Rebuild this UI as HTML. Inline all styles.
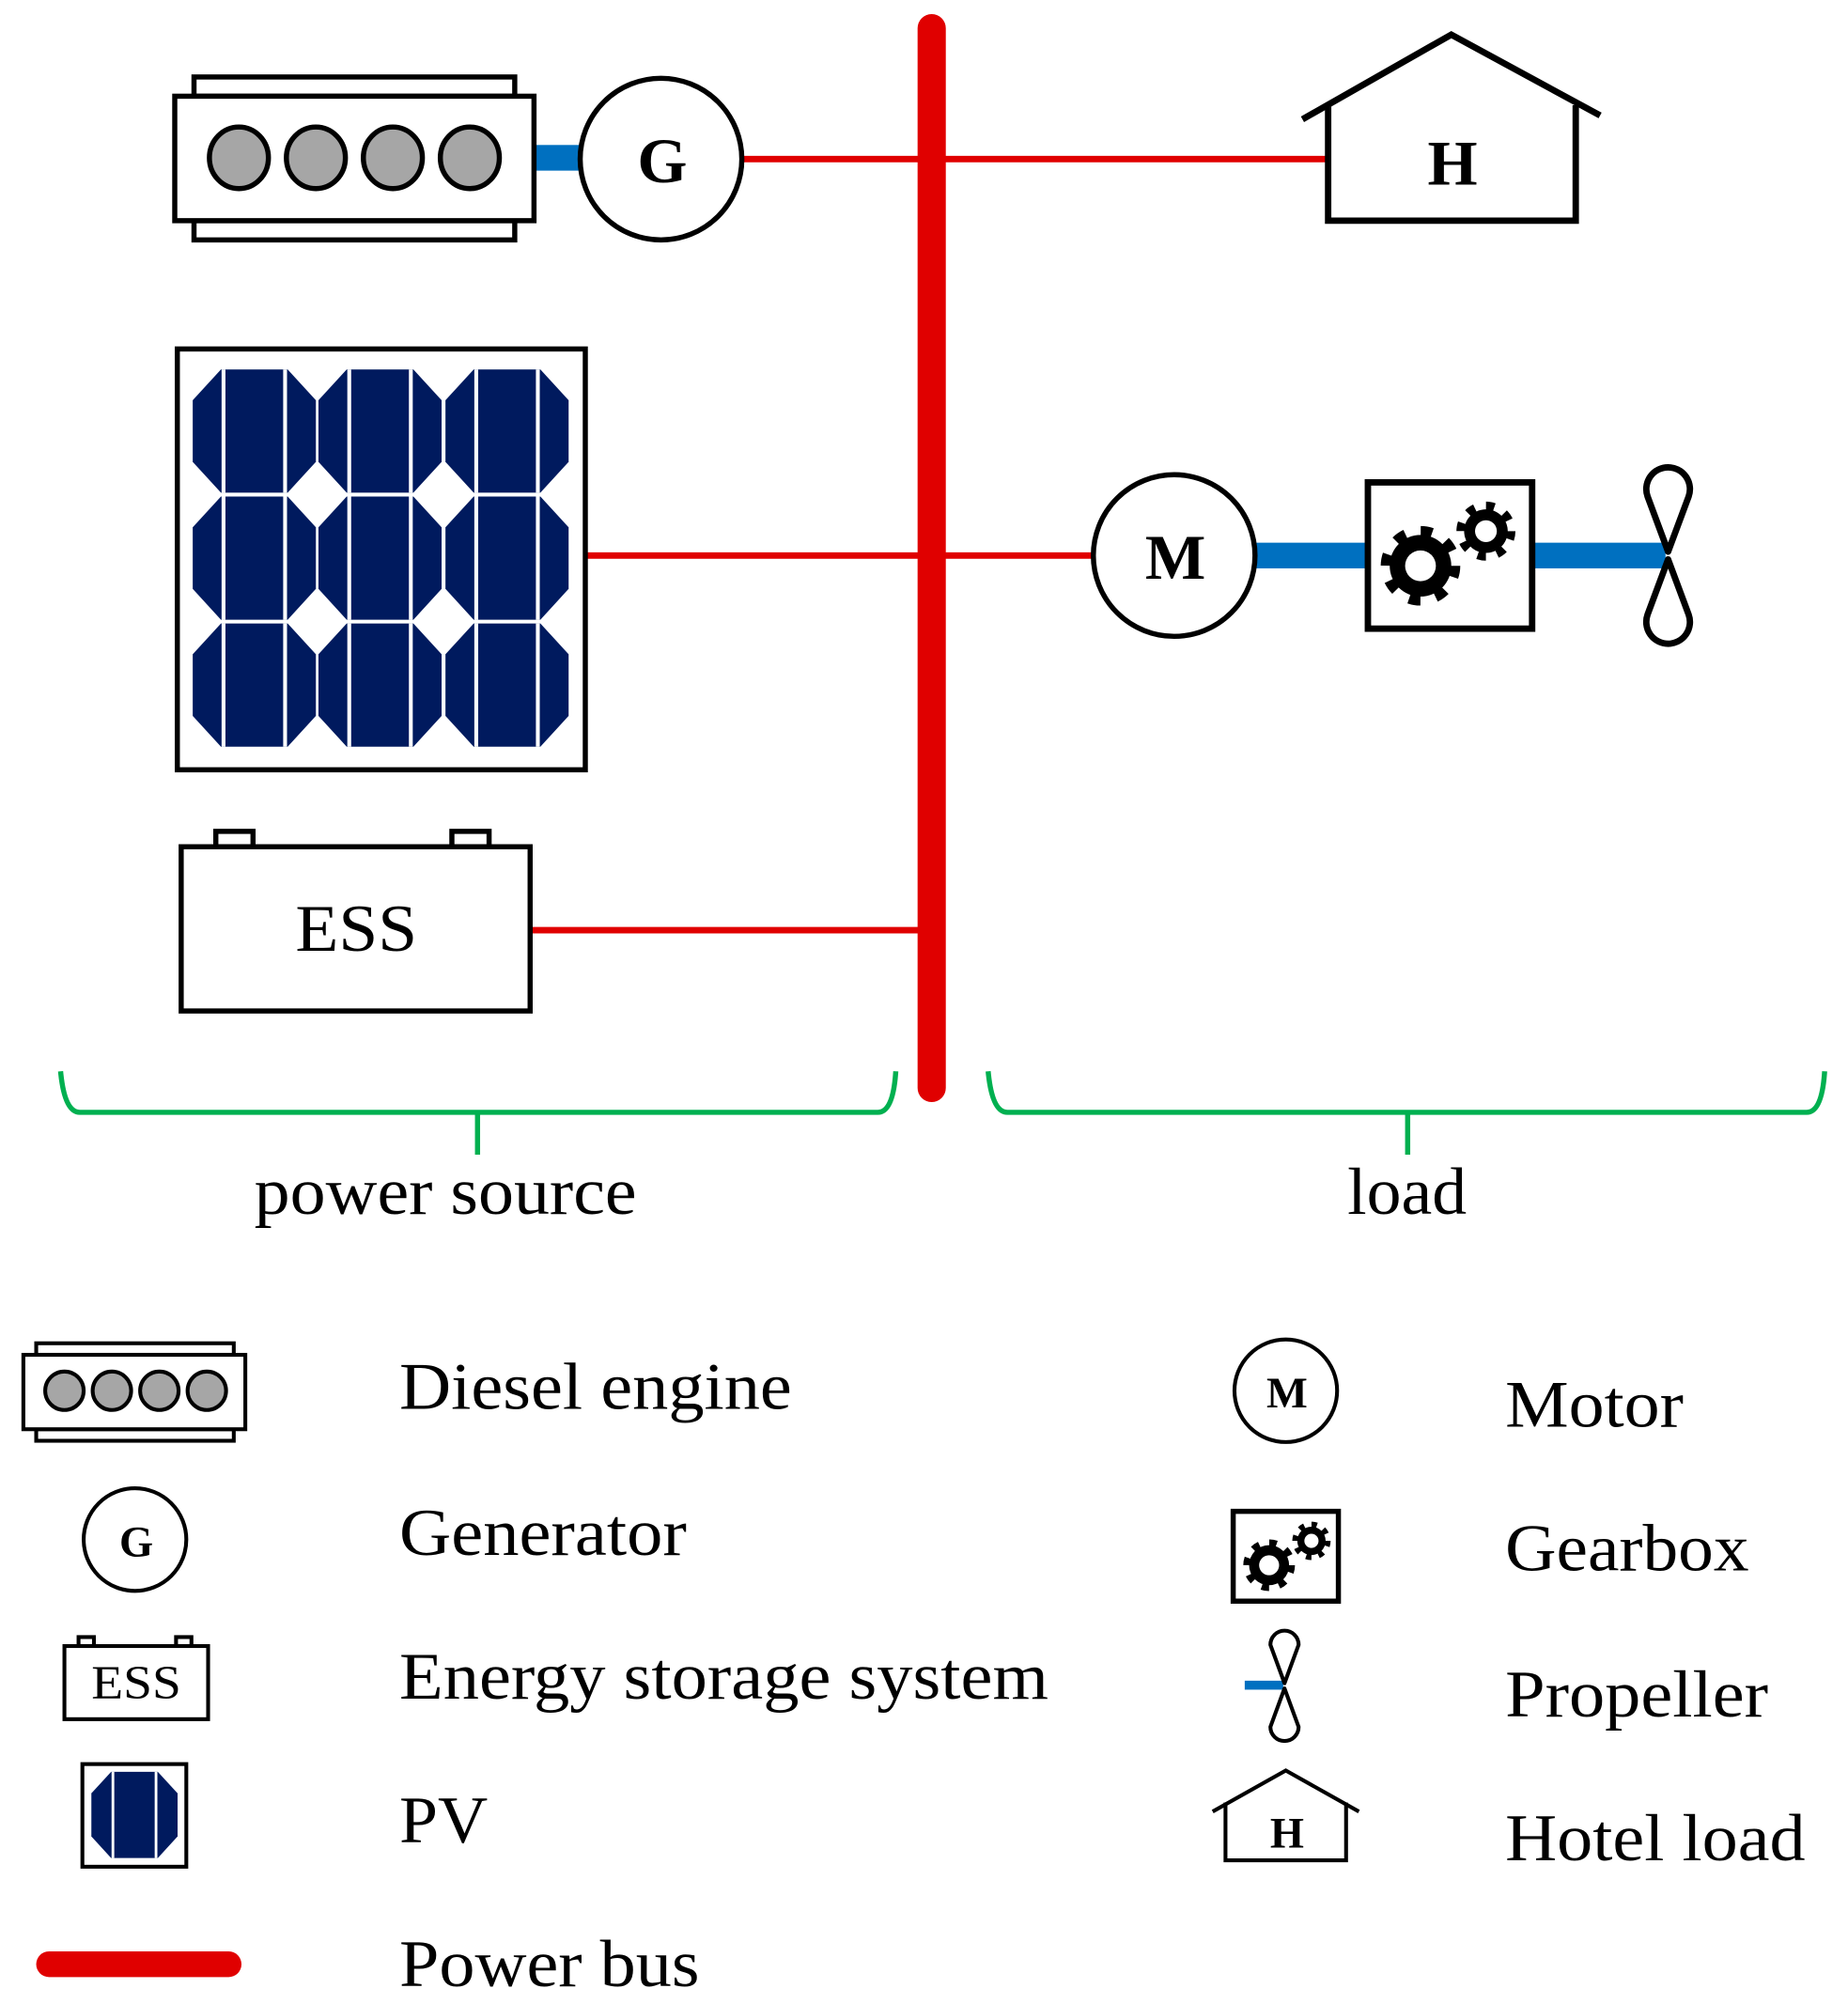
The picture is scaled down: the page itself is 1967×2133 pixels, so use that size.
<!DOCTYPE html>
<html><head><meta charset="utf-8"><style>html,body{margin:0;padding:0;background:#fff}svg{display:block}</style></head>
<body>
<svg width="1967" height="2133" viewBox="0 0 1440 1562" xmlns="http://www.w3.org/2000/svg" font-family="'Liberation Serif', serif">
<defs>
  <g id="cell">
    <path d="M22,0 H74 L96,24 V72 L74,96 H22 L0,72 V24 Z" fill="#001a5e"/>
    <line x1="24" y1="0" x2="24" y2="96" stroke="#fff" stroke-width="3"/>
    <line x1="72" y1="0" x2="72" y2="96" stroke="#fff" stroke-width="3"/>
  </g>
  <g id="gear">
    <circle r="27" fill="none" stroke="#000" stroke-width="8" stroke-dasharray="9 12.2"/>
    <circle r="24" fill="#000"/>
    <circle r="12" fill="#fff"/>
  </g>
  <g id="gear2">
    <circle r="19.5" fill="none" stroke="#000" stroke-width="7" stroke-dasharray="6.5 8.8"/>
    <circle r="17" fill="#000"/>
    <circle r="8.5" fill="#fff"/>
  </g>
</defs>
<rect width="1440" height="1562" fill="#fff"/>

<line x1="578" y1="124" x2="1035" y2="124" stroke="#e00000" stroke-width="5"/>
<line x1="456" y1="433" x2="852" y2="433" stroke="#e00000" stroke-width="5"/>
<line x1="413" y1="725" x2="720" y2="725" stroke="#e00000" stroke-width="5"/>
<line x1="726" y1="22" x2="726" y2="848" stroke="#e00000" stroke-width="22" stroke-linecap="round"/>

<rect x="416" y="113" width="40" height="20" fill="#0070c0"/>
<rect x="151" y="60" width="250" height="15" fill="#fff" stroke="#000" stroke-width="4"/>
<rect x="151" y="172" width="250" height="15" fill="#fff" stroke="#000" stroke-width="4"/>
<rect x="136" y="75" width="280" height="97" fill="#fff" stroke="#000" stroke-width="4"/>
<g fill="#a6a6a6" stroke="#000" stroke-width="4">
<ellipse cx="186" cy="123" rx="23" ry="24"/><ellipse cx="246" cy="123" rx="23" ry="24"/>
<ellipse cx="306" cy="123" rx="23" ry="24"/><ellipse cx="366" cy="123" rx="23" ry="24"/>
</g>
<circle cx="515" cy="124" r="63" fill="#fff" stroke="#000" stroke-width="4"/>
<text x="516" y="142" font-size="50" font-weight="bold" text-anchor="middle">G</text>

<polyline points="1015,93 1131,27 1247,90" fill="none" stroke="#000" stroke-width="5"/>
<polyline points="1035,82 1035,172 1228,172 1228,82" fill="none" stroke="#000" stroke-width="5"/>
<text x="1132" y="144" font-size="50" font-weight="bold" text-anchor="middle">H</text>

<rect x="138" y="272" width="318" height="328" fill="#fff" stroke="#000" stroke-width="4"/>
<use href="#cell" x="150" y="288"/><use href="#cell" x="248" y="288"/><use href="#cell" x="347" y="288"/>
<use href="#cell" x="150" y="387"/><use href="#cell" x="248" y="387"/><use href="#cell" x="347" y="387"/>
<use href="#cell" x="150" y="486"/><use href="#cell" x="248" y="486"/><use href="#cell" x="347" y="486"/>

<rect x="978" y="423" width="90" height="20" fill="#0070c0"/>
<rect x="1194" y="423" width="104" height="20" fill="#0070c0"/>
<circle cx="915" cy="433" r="63" fill="#fff" stroke="#000" stroke-width="4"/>
<text x="916" y="451" font-size="50" font-weight="bold" text-anchor="middle">M</text>
<rect x="1066" y="376" width="128" height="114" fill="#fff" stroke="#000" stroke-width="5"/>
<use href="#gear" x="1107" y="441"/>
<use href="#gear2" x="1158" y="414"/>
<g fill="#fff" stroke="#000" stroke-width="5" stroke-linejoin="round">
<path d="M1300,430 L1284,387 A17,17 0 1 1 1316,387 Z"/>
<path d="M1300,436 L1284,479 A17,17 0 1 0 1316,479 Z"/>
</g>

<rect x="168" y="648" width="29" height="12" fill="#fff" stroke="#000" stroke-width="4"/>
<rect x="352" y="648" width="29" height="12" fill="#fff" stroke="#000" stroke-width="4"/>
<rect x="141" y="660" width="272" height="128" fill="#fff" stroke="#000" stroke-width="4"/>
<text x="230" y="741" font-size="52" textLength="95" lengthAdjust="spacingAndGlyphs">ESS</text>

<g fill="none" stroke="#00b050" stroke-width="4">
<path d="M47,835 Q50,867 62,867 H684 Q696,867 698,835"/>
<line x1="372" y1="867" x2="372" y2="900"/>
<path d="M770,835 Q773,867 785,867 H1408 Q1420,867 1422,835"/>
<line x1="1097" y1="867" x2="1097" y2="900"/>
</g>
<text x="198" y="946" font-size="52" textLength="298" lengthAdjust="spacingAndGlyphs">power source</text>
<text x="1050" y="946" font-size="52" textLength="93" lengthAdjust="spacingAndGlyphs">load</text>

<rect x="28" y="1047" width="154" height="9" fill="#fff" stroke="#000" stroke-width="3"/>
<rect x="28" y="1114" width="154" height="9" fill="#fff" stroke="#000" stroke-width="3"/>
<rect x="18" y="1056" width="173" height="58" fill="#fff" stroke="#000" stroke-width="3"/>
<g fill="#a6a6a6" stroke="#000" stroke-width="3">
<circle cx="50" cy="1084" r="15"/><circle cx="87" cy="1084" r="15"/><circle cx="124" cy="1084" r="15"/><circle cx="161" cy="1084" r="15"/>
</g>
<text x="311" y="1098" font-size="52" textLength="306" lengthAdjust="spacingAndGlyphs">Diesel engine</text>

<circle cx="105" cy="1200" r="40" fill="#fff" stroke="#000" stroke-width="3"/>
<text x="106" y="1213" font-size="34" font-weight="bold" text-anchor="middle">G</text>
<text x="311" y="1212" font-size="52" textLength="224" lengthAdjust="spacingAndGlyphs">Generator</text>

<rect x="61" y="1276" width="12" height="7" fill="#fff" stroke="#000" stroke-width="3"/>
<rect x="137" y="1276" width="12" height="7" fill="#fff" stroke="#000" stroke-width="3"/>
<rect x="50" y="1283" width="112" height="57" fill="#fff" stroke="#000" stroke-width="3"/>
<text x="71" y="1324" font-size="37" textLength="70" lengthAdjust="spacingAndGlyphs">ESS</text>
<text x="311" y="1324" font-size="52" textLength="506" lengthAdjust="spacingAndGlyphs">Energy storage system</text>

<rect x="64" y="1375" width="81" height="80" fill="#fff" stroke="#000" stroke-width="3"/>
<g transform="translate(71,1381) scale(0.7)"><use href="#cell"/></g>
<text x="311" y="1436" font-size="52" textLength="69" lengthAdjust="spacingAndGlyphs">PV</text>

<line x1="38" y1="1531" x2="178" y2="1531" stroke="#e00000" stroke-width="20" stroke-linecap="round"/>
<text x="311" y="1548" font-size="52" textLength="234" lengthAdjust="spacingAndGlyphs">Power bus</text>

<circle cx="1002" cy="1084" r="40" fill="#fff" stroke="#000" stroke-width="3"/>
<text x="1003" y="1097" font-size="34" font-weight="bold" text-anchor="middle">M</text>
<text x="1173" y="1112" font-size="52" textLength="139" lengthAdjust="spacingAndGlyphs">Motor</text>

<rect x="961" y="1178" width="82" height="70" fill="#fff" stroke="#000" stroke-width="4"/>
<g transform="translate(989,1220) scale(0.65)"><use href="#gear"/></g>
<g transform="translate(1022,1201) scale(0.65)"><use href="#gear2"/></g>
<text x="1173" y="1224" font-size="52" textLength="190" lengthAdjust="spacingAndGlyphs">Gearbox</text>

<rect x="970" y="1310" width="30" height="7" fill="#0070c0"/>
<g fill="#fff" stroke="#000" stroke-width="3" stroke-linejoin="round">
<path d="M1001,1312 L990,1282 A11,11 0 1 1 1012,1282 Z"/>
<path d="M1001,1316 L990,1346 A11,11 0 1 0 1012,1346 Z"/>
</g>
<text x="1173" y="1338" font-size="52" textLength="205" lengthAdjust="spacingAndGlyphs">Propeller</text>

<polyline points="945,1412 1002,1380 1059,1412" fill="none" stroke="#000" stroke-width="3"/>
<polyline points="955,1405 955,1450 1049,1450 1049,1405" fill="none" stroke="#000" stroke-width="3"/>
<text x="1003" y="1440" font-size="34" font-weight="bold" text-anchor="middle">H</text>
<text x="1173" y="1450" font-size="52" textLength="234" lengthAdjust="spacingAndGlyphs">Hotel load</text>
</svg>
</body></html>
